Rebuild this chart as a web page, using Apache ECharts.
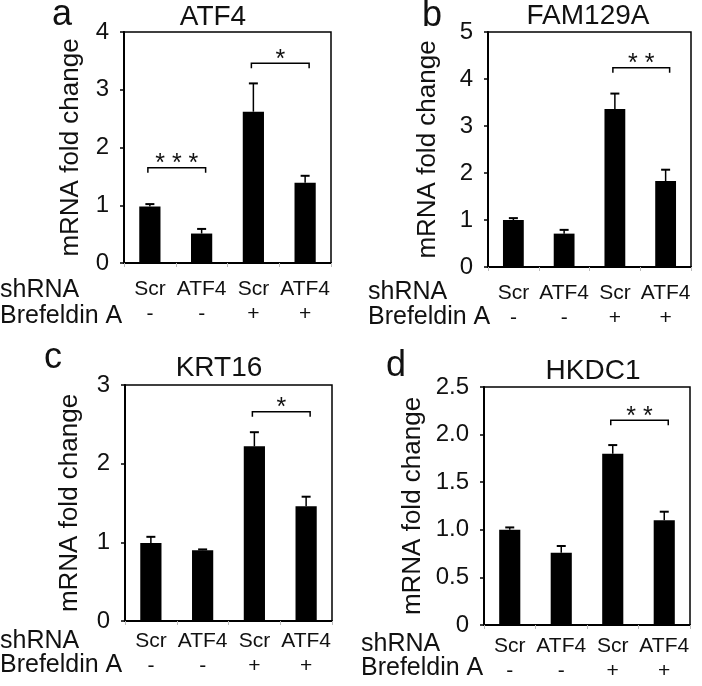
<!DOCTYPE html>
<html><head><meta charset="utf-8">
<script src="https://cdn.jsdelivr.net/npm/echarts@6/dist/echarts.min.js"></script>
<style>html,body{margin:0;padding:0;background:#fff}#c{width:702px;height:686px}</style>
</head><body><div id="c"></div>
<script>
// ---- data ----
const shrnaLabels = ['Scr', 'ATF4', 'Scr', 'ATF4'];
const brefLabels = ['-', '-', '+', '+'];
const panelLetters = ['a', 'b', 'c', 'd'];
const geneTitles = ['ATF4', 'FAM129A', 'KRT16', 'HKDC1'];
const yMax = [4, 5, 3, 2.5];
const yStep = [1, 1, 1, 0.5];
const meanA = [0.98, 0.51, 2.62, 1.39];
const errA  = [1.02, 0.59, 3.11, 1.51];
const meanB = [1.00, 0.71, 3.36, 1.83];
const errB  = [1.04, 0.79, 3.69, 2.07];
const meanC = [0.99, 0.90, 2.22, 1.46];
const errC  = [1.07, 0.91, 2.40, 1.58];
const meanD = [1.00, 0.76, 1.80, 1.10];
const errD  = [1.025, 0.83, 1.89, 1.19];
// significance brackets: [fromCat, toCat, height, stars]
const sigA = [[0, 1, 1.65, '* * *'], [2, 3, 3.46, '*']];
const sigB = [[2, 3, 4.24, '* *']];
const sigC = [[2, 3, 2.66, '*']];
const sigD = [[2, 3, 2.15, '* *']];

const means = [meanA, meanB, meanC, meanD];
const errs = [errA, errB, errC, errD];
const sigs = [sigA, sigB, sigC, sigD];

// ---- layout ----
const FONT = '"Liberation Sans", Arial, Helvetica, sans-serif';
const grids = [
  {left: 124, top: 32, width: 207, height: 231},
  {left: 488, top: 32, width: 203, height: 235},
  {left: 125, top: 385, width: 207, height: 236},
  {left: 484, top: 387, width: 206, height: 238}
];
const nameGaps = [40, 47, 42, 58];
const labelMargins = [14, 14, 8, 9];
const titlePos = [[213, 17], [588, 16], [219, 368], [593, 371]];
const letterPos = [[62, 15], [432, 16], [53, 358], [396, 366]];
const rowLabelPos = [[0, 290, 316], [368, 292, 317], [0, 641, 665], [361, 644, 668]];

const option = {
  animation: false,
  backgroundColor: '#fff',
  grid: grids.map(g => Object.assign({show: true, borderColor: '#000', borderWidth: 1.5, backgroundColor: 'transparent'}, g)),
  xAxis: grids.map((g, i) => ({
    type: 'category', gridIndex: i, data: shrnaLabels.map((s, k) => k),
    axisLine: {lineStyle: {color: '#000', width: 2}},
    axisTick: {show: true, length: 4, lineStyle: {color: '#bbb', width: 1}},
    axisLabel: {
      interval: 0, margin: labelMargins[i], fontFamily: FONT, fontSize: 21, color: '#111', lineHeight: 25,
      formatter: (v, k) => shrnaLabels[k] + '\n' + brefLabels[k]
    }
  })),
  yAxis: grids.map((g, i) => ({
    type: 'value', gridIndex: i, min: 0, max: yMax[i], interval: yStep[i],
    name: 'mRNA fold change', nameLocation: 'middle', nameRotate: 90, nameGap: nameGaps[i],
    nameTextStyle: {fontFamily: FONT, fontSize: 26, color: '#111'},
    splitLine: {show: false},
    axisLine: {show: true, lineStyle: {color: '#000', width: 2}},
    axisTick: {show: true, length: 4, lineStyle: {color: '#000', width: 1.5}},
    axisLabel: {
      margin: 15, fontFamily: FONT, fontSize: 24, color: '#111',
      formatter: v => (yStep[i] < 1 && v !== 0) ? v.toFixed(1) : String(v)
    }
  })),
  series: [],
  graphic: []
};

for (let i = 0; i < 4; i++) {
  option.series.push({
    type: 'bar', xAxisIndex: i, yAxisIndex: i, data: means[i],
    barWidth: '41%', itemStyle: {color: '#000'}, silent: true
  });
  option.series.push({
    type: 'custom', xAxisIndex: i, yAxisIndex: i,
    data: means[i].map((m, k) => [k, m, errs[i][k]]),
    renderItem: (params, api) => {
      const base = api.coord([api.value(0), api.value(1)]);
      const top = api.coord([api.value(0), api.value(2)]);
      const hw = 4.5;
      return {
        type: 'group', children: [
          {type: 'line', shape: {x1: base[0], y1: base[1], x2: top[0], y2: top[1]}, style: {stroke: '#000', lineWidth: 1.5}},
          {type: 'line', shape: {x1: top[0] - hw, y1: top[1], x2: top[0] + hw, y2: top[1]}, style: {stroke: '#000', lineWidth: 2}}
        ]
      };
    }, z: 3, silent: true
  });
  const sg = sigs[i];
  option.series.push({
    type: 'custom', xAxisIndex: i, yAxisIndex: i,
    data: sg.map(s => [s[0], s[1], s[2]]),
    renderItem: (params, api) => {
      const p1 = api.coord([api.value(0), api.value(2)]);
      const p2 = api.coord([api.value(1), api.value(2)]);
      const x1 = p1[0] - 2, x2 = p2[0] + 4, y = p1[1];
      return {
        type: 'group', children: [
          {type: 'polyline', shape: {points: [[x1, y + 5], [x1, y], [x2, y], [x2, y + 5]]}, style: {stroke: '#000', lineWidth: 1.5, fill: null}},
          {type: 'text', style: {text: sg[params.dataIndex][3], x: (x1 + x2) / 2, y: y + 9, align: 'center', verticalAlign: 'bottom', font: '25px ' + FONT, fill: '#111'}}
        ]
      };
    }, z: 3, silent: true
  });
  option.graphic.push({type: 'text', x: titlePos[i][0], y: titlePos[i][1],
    style: {text: geneTitles[i], font: '28px ' + FONT, fill: '#111', align: 'center', verticalAlign: 'middle'}});
  option.graphic.push({type: 'text', x: letterPos[i][0], y: letterPos[i][1],
    style: {text: panelLetters[i], font: '36px ' + FONT, fill: '#111', align: 'center', verticalAlign: 'middle'}});
  option.graphic.push({type: 'text', x: rowLabelPos[i][0], y: rowLabelPos[i][1],
    style: {text: 'shRNA', font: '25px ' + FONT, fill: '#111', align: 'left', verticalAlign: 'middle'}});
  option.graphic.push({type: 'text', x: rowLabelPos[i][0], y: rowLabelPos[i][2],
    style: {text: 'Brefeldin A', font: '25px ' + FONT, fill: '#111', align: 'left', verticalAlign: 'middle'}});
}

const chart = echarts.init(document.getElementById('c'), null, {renderer: 'canvas'});
chart.setOption(option);
</script></body></html>
